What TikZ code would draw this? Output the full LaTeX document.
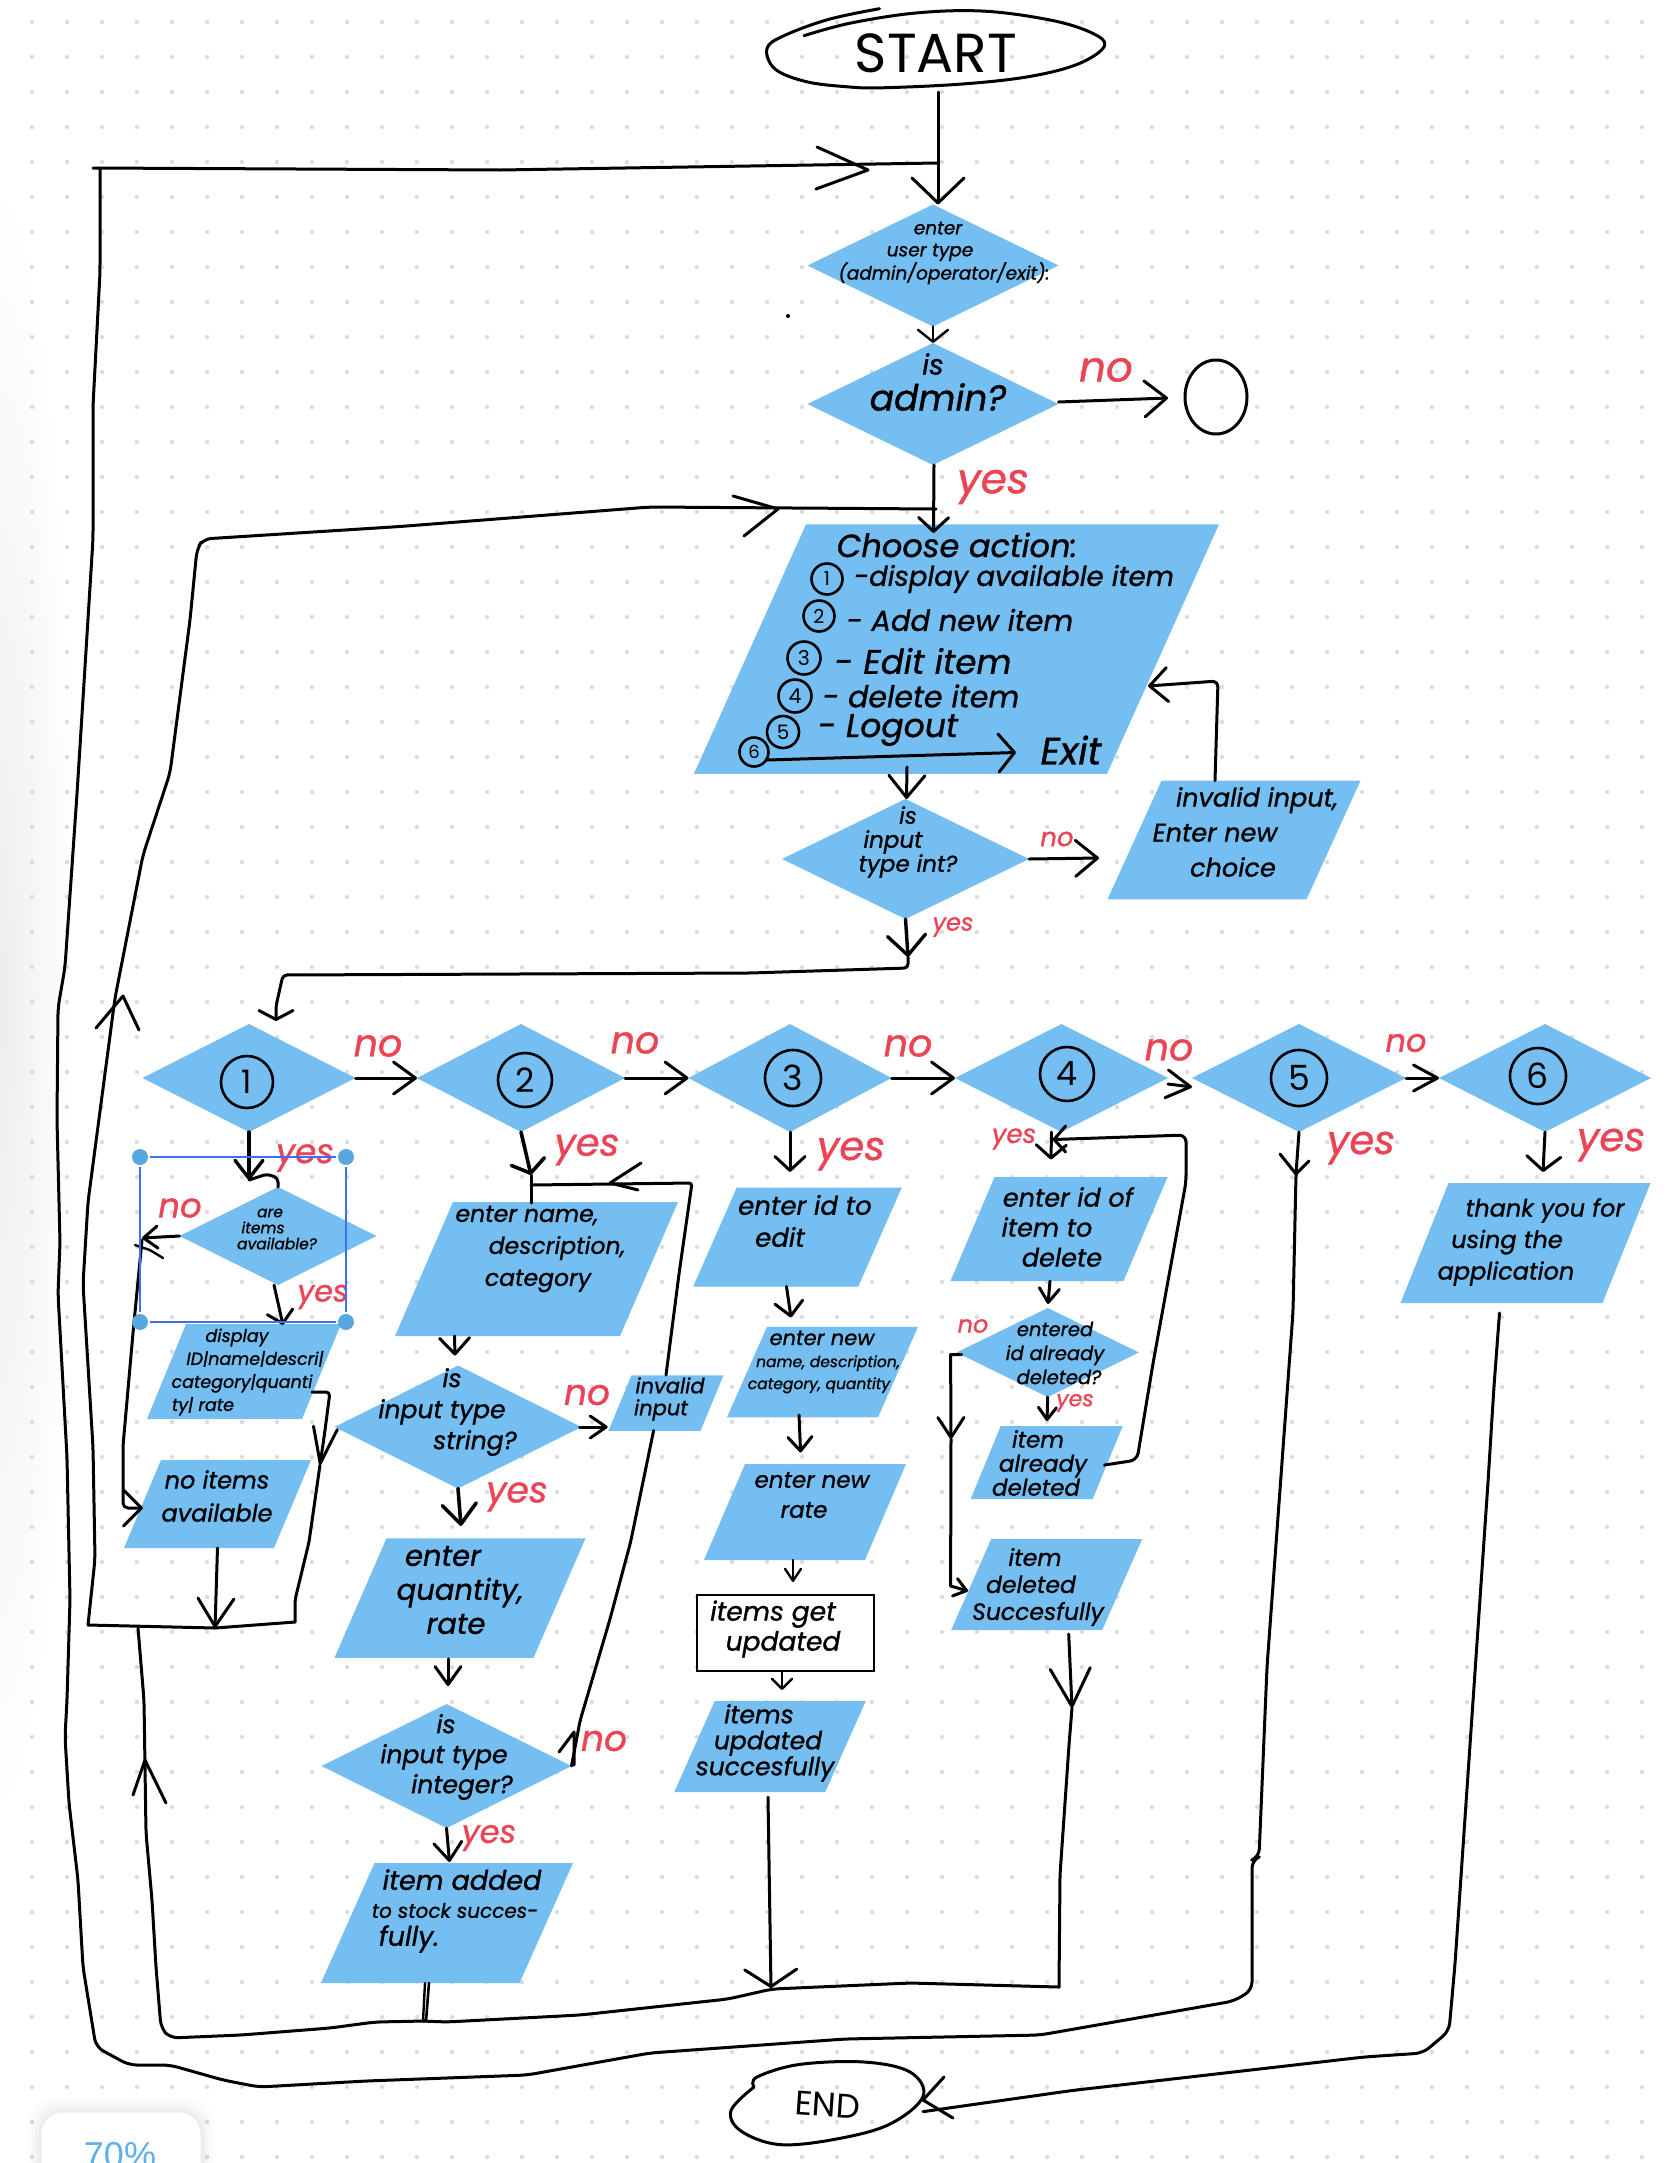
\documentclass[tikz,border=0pt]{standalone}
\usepackage{fontspec}
\setmainfont{Poppins}[ItalicFeatures={FakeBold=1}]
\newfontfamily\uifont{Liberation Sans}
\usetikzlibrary{shapes.geometric,arrows.meta}
\definecolor{flow}{HTML}{75BEF1}
\definecolor{redpen}{HTML}{EA4455}
\definecolor{griddot}{HTML}{DCDCDC}
\definecolor{selline}{HTML}{3F6FF0}
\definecolor{selknob}{HTML}{57A7E0}
\definecolor{uiblue}{HTML}{5FB0E8}
\newcommand\mv[2]{\rlap{\kern#1pt\makebox[0pt]{#2}}}
\newcommand\F[1]{\fontsize{#1}{#1}\selectfont}
\newcommand\numfont[1]{\pgfmathsetmacro\nfsize{0.62*#1}\fontsize{\nfsize}{#1}\selectfont}
\newcommand\dm[5]{\node[dmd,minimum width=#4pt,minimum height=#5pt] (#1) at (#2,#3) {};}
% name, cx, cy, top width, slant, height
\newcommand\pg[6]{\node[pgm,minimum width={(#4+#5)*1pt},minimum height=#6pt] (#1) at (#2,#3) {};
  \fill[flow] ({#2-(#4+#5)/2+#5},{#3-#6/2}) -- ({#2+(#4+#5)/2},{#3-#6/2}) -- ({#2+(#4+#5)/2-#5},{#3+#6/2}) -- ({#2-(#4+#5)/2},{#3+#6/2}) -- cycle;}
\newcommand\hd[3]{\draw[conn] #2 -- #1 -- #3;}
\tikzset{
  dmd/.style={diamond,fill=flow,draw=none,inner sep=0pt,outer sep=0pt,aspect=2},
  pgm/.style={rectangle,draw=none,inner sep=0pt,outer sep=0pt},
  fs/.style 2 args={font=\fontsize{#1}{#2}\selectfont\itshape,align=center,inner sep=0pt,text=black},
  lab/.style={font=\fontsize{#1}{#1}\selectfont\itshape,text=redpen,inner sep=0pt},
  conn/.style={draw=black,line width=3pt,line cap=round,line join=round},
  thin conn/.style={conn,line width=2.4pt},
  bb/.style 2 args={arrows={-{Straight Barb[length=#1pt,width=#2pt,round]}}},
  num/.style={circle,draw=black,line width=2.6pt,inner sep=0pt,minimum size=#1pt,font=\numfont{#1}},
  num/.default=52
}
\begin{document}
\begin{tikzpicture}[x=1pt,y=-1pt]
\useasboundingbox (0,0) rectangle (1668,2163);
\clip (0,0) rectangle (1668,2163);
\fill[white] (0,0) rectangle (1668,2163);
\shade[inner color=black!7,outer color=white,draw=none] (0,1000) ellipse [x radius=75pt,y radius=820pt];
\foreach \i in {0,...,46}{\foreach \j in {0,...,61}{\fill[griddot] ({32+35*\i},{22+35*\j}) circle[radius=2.2pt];}}
% UI card
\foreach \o/\a in {14/0.012,10/0.015,6/0.02,3/0.025}{\fill[black,opacity=\a,rounded corners=26pt] ({41-\o},{2112-\o}) rectangle ({201+\o},2200);}
\fill[white,rounded corners=22pt] (41,2112) rectangle (201,2200);
\draw[black!7,line width=1pt,rounded corners=22pt] (41,2112) rectangle (201,2200);
\node[font=\uifont\fontsize{36}{36}\selectfont,text=uiblue,inner sep=0pt] (zoomlevel) at (120,2155) {70\%};

% decisions
\dm{d0}{933}{265.5}{251}{122}
\dm{d1}{933}{404}{251}{122}
\dm{d2}{905.5}{859}{247}{120}
\dm{c1}{249}{1078}{213}{108}
\dm{c2}{521}{1078}{208}{108}
\dm{c3}{790}{1078}{203}{108}
\dm{c4}{1061.5}{1078}{213}{108}
\dm{c5}{1299}{1078}{214}{108}
\dm{c6}{1545}{1078}{212}{108}
\dm{are}{278}{1236}{197}{98}
\dm{str}{458}{1427}{247}{123}
\dm{int}{446.5}{1766}{250}{124}
\dm{ent}{1047.7}{1352.5}{182.5}{89}
% data boxes
\pg{choose}{956.5}{649}{413}{112}{249.5}
\pg{inv1}{1234}{840}{199}{54}{118.7}
\pg{disp}{244}{1371.5}{155}{39}{95}
\pg{noit}{217.5}{1504}{150}{37}{88}
\pg{name}{536.5}{1269}{225}{58}{134}
\pg{inv2}{666}{1403}{92}{23}{55.5}
\pg{qty}{460}{1598}{199}{52}{119.5}
\pg{added}{447}{1923}{198.5}{53.5}{120}
\pg{edit}{797.5}{1237}{165}{43.5}{99}
\pg{newn}{822.5}{1372}{151}{40}{90.5}
\pg{rate}{805}{1512}{161}{41}{96}
\pg{upd}{770}{1746.5}{151}{40.5}{91}
\pg{did}{1059}{1229}{173}{44}{104}
\pg{alr}{1046.7}{1462.5}{122}{30}{73}
\pg{dele}{1046.7}{1584.5}{151}{40}{91}
\pg{thank}{1525.5}{1243}{202}{48}{120}
\node[draw=black,line width=2.6pt,fill=white,minimum width=177pt,minimum height=76pt,inner sep=0pt] (rect) at (785.5,1633) {};

% terminators
\node[inner sep=0pt,font=\fontsize{55}{55}\selectfont,minimum width=338pt,minimum height=78pt] (start) at (936,53) {START};
\draw[conn] plot[smooth,tension=.6] coordinates {(879.5,8.7) (828.6,19.4) (784,35.7) (767,48.5) (775,69) (806,81.6) (846,86.7) (882,87.8) (962.5,84) (1029.5,76.5) (1078.6,63.8) (1104.5,46) (1092,33) (1052,20.4) (985,11.2) (918,12.8) (851,23) (804,35.7)};
\node[inner sep=0pt,font=\fontsize{34}{34}\selectfont,rotate=-4,minimum width=190pt,minimum height=80pt] (end) at (828,2105) {END};
\draw[conn] plot[smooth,tension=.6] coordinates {(754,2087) (731,2110.5) (741,2131) (780,2144.6) (838,2138.7) (890,2124) (923,2096.5) (910,2072) (864,2062) (799,2064.5) (757,2077) (754,2087)};
\node[ellipse,draw=black,line width=3pt,minimum width=62pt,minimum height=74pt,inner sep=0pt] (stop) at (1216,397) {};

% numbered choices
\node[num=52] (n1) at (247,1082) {1};
\node[num=54] (n2) at (525,1080) {2};
\node[num=56] (n3) at (793,1078) {3};
\node[num=54] (n4) at (1067,1074) {4};
\node[num=56] (n5) at (1299,1078) {5};
\node[num=56] (n6) at (1538,1076) {6};

% texts in shapes
\node[fs={18.5}{22}] (t0) at (936,253) {\mv{2}{enter}\\\mv{-6}{user type}\\\mv{8}{(admin/operator/exit):}};
\node[fs={36}{38}] (t1a) at (938,397) {admin?};
\node[fs={28}{30}] (t1b) at (933,364) {is};
\node[fs={23}{24}] (t2) at (903,842) {\mv{5}{is}\\\mv{-10}{input}\\\mv{5}{type int?}};
\node[fs={25.5}{35}] (t3) at (1235,832) {\mv{22}{invalid input,}\\\mv{-20}{Enter new}\\\mv{-2}{choice}};
\node[fs={15.5}{16}] (t4) at (270,1229) {are\\\mv{-7}{items}\\\mv{7}{available?}};
\node[fs={17.5}{23}] (t5) at (235,1372) {\mv{2}{display}\\\mv{20}{ID|name|descri|}\\\mv{7}{category|quanti}\\\mv{-32}{ty| rate}};
\node[fs={24}{33}] (t6) at (217,1496) {no items\\available};
\node[fs={23.5}{32}] (t7) at (535,1249) {\mv{-8}{enter name,}\\\mv{22}{description,}\\\mv{3}{category}};
\node[fs={25}{31}] (t8) at (450,1412) {\mv{2}{is}\\\mv{-8}{input type}\\\mv{25}{string?}};
\node[fs={21}{22}] (t9) at (665,1399) {\mv{5}{invalid}\\\mv{-4}{input}};
\node[fs={29}{34}] (t10) at (453,1590) {\mv{-10}{enter}\\\mv{7}{quantity,}\\\mv{3}{rate}};
\node[fs={25}{30}] (t11) at (450,1757) {\mv{-4}{is}\\\mv{-6}{input type}\\\mv{12}{integer?}};
\node[fs={20}{28}] (t12) at (450,1911) {\mv{12}{\F{27}item added}\\\mv{5}{to stock succes-}\\\mv{-41}{\F{27}fully.}};
\node[fs={26}{32}] (t13) at (795,1221) {\mv{10}{enter id to}\\\mv{-15}{edit}};
\node[fs={15.5}{22}] (t14) at (822,1362) {\F{21}enter new\\\mv{6}{name, description,}\\\mv{-3}{category, quantity}};
\node[fs={23}{30}] (t15) at (808,1495) {\mv{4}{enter new}\\\mv{-4}{rate}};
\node[fs={26.5}{30}] (t16) at (778,1629) {\mv{-5}{items get}\\\mv{5}{updated}};
\node[fs={25}{26}] (t17) at (765,1743) {\mv{-6}{items}\\\mv{3}{updated}\\succesfully};
\node[fs={25.5}{30}] (t18) at (1060,1227) {\mv{8}{enter id of}\\\mv{-13}{item to}\\\mv{2}{delete}};
\node[fs={19.5}{24}] (t19) at (1055,1353) {entered\\id already\\\mv{4}{deleted?}};
\node[fs={23}{24}] (t20) at (1040,1463) {\mv{-2}{item}\\\mv{3}{already}\\\mv{-4}{deleted}};
\node[fs={23.5}{27}] (t21) at (1035,1587) {item\\\mv{-4}{deleted}\\\mv{3}{Succesfully}};
\node[fs={24}{31.5}] (t22) at (1520,1242) {\mv{25}{thank you for}\\\mv{-13}{using the}\\\mv{-14}{application}};

% menu
\node[fs={32}{34}] (m0) at (957,545) {Choose action:};
\node[num=31] (m1) at (827,579) {1};
\node[num=31] (m2) at (819,616) {2};
\node[num=33] (m3) at (804,658) {3};
\node[num=33] (m4) at (795,696) {4};
\node[num=32] (m5) at (783,732) {5};
\node[num=29] (m6) at (754,752) {6};
\node[fs={27.5}{28}] (m1t) at (1014,579) {-display available item};
\node[fs={29}{30}] (m2t) at (960,620) {- Add new item};
\node[fs={34}{36}] (m3t) at (923,661) {- Edit item};
\node[fs={30}{32}] (m4t) at (921,696) {- delete item};
\node[fs={33}{34}] (m5t) at (888,730) {- Logout};
\node[fs={38}{40}] (exit) at (1071,750) {Exit};
\coordinate (arr6) at (767,760);
\coordinate (arrexit) at (1016,752.5);
\draw[conn,bb={16}{38}] (arr6) -- (arrexit);

% main flow
\draw[conn,bb={25}{52}] ([xshift=2pt]start.south) -- ([xshift=5pt]d0.north);
\draw[thin conn,bb={12}{30}] (d0.south) -- (d1.north);
\draw[conn,bb={14}{30}] ([xshift=1pt]d1.south) -- (933.5,533);
\draw[conn,bb={22}{36}] ([yshift=2pt]d1.east) -- (1168,398);
\draw[conn,bb={22}{36}] (907,767) -- ([xshift=1pt]d2.north);
\draw[conn,bb={22}{36}] (d2.east) -- (1099,858);
\coordinate (d2foot) at (908,968);
\draw[conn,line width=3.4pt,bb={20}{38}] (d2.south) -- (908,957);
\draw[conn,rounded corners=4pt,bb={9}{34}] (908,957) -- (d2foot) -- (750,973) -- (283,975) -- (276,1006) -- ([xshift=27pt,yshift=3pt]c1.north);
\draw[conn,rounded corners=6pt,bb={18}{34}] ([xshift=-19pt]inv1.north) -- (1218,681) -- (1148,686);
% row
\draw[conn,bb={22}{32}] (c1.east) -- (c2.west);
\draw[conn,bb={22}{32}] (c2.east) -- (c3.west);
\draw[conn,bb={22}{32}] (c3.east) -- (c4.west);
\draw[conn,bb={24}{28}] ([yshift=-6pt]c4.east) -- ([yshift=-9pt]c5.west);
\draw[conn,bb={24}{26}] (c5.east) -- (c6.west);
% column 1
\coordinate (w1) at (249,1180);
\draw[conn,line width=3.4pt,bb={18}{28}] (c1.south) -- (w1);
\draw[conn,rounded corners=4pt] (w1) -- (267,1174) -- (278,1178) -- (are.north);
\draw[conn,bb={14}{22}] (are.west) -- (142,1238);
\draw[thin conn,rounded corners=2pt] (135,1245) -- (150,1250) -- (163,1258);
\draw[conn,rounded corners=5pt,bb={18}{36}] (142,1240) -- (133,1333) -- (123,1446) -- (123,1508) -- (143,1508);
\draw[conn,bb={12}{26}] ([xshift=-4pt]are.south) -- ([xshift=39pt,yshift=-1pt]disp.north);
\coordinate (busL) at (88,1625);
\coordinate (busM) at (215,1628);
\coordinate (busR) at (295,1622);
\draw[conn,rounded corners=4pt,bb={36}{24}] (312,1392) -- (330,1392) -- (324.5,1434) -- (320,1465);
\draw[conn,rounded corners=4pt] (320,1465) -- (309,1542) -- (295,1600) -- (busR);
\draw[conn,bb={28}{36}] (noit.south) -- (busM);
\draw[conn] (busL) -- (busM) -- (busR);
\draw[conn,rounded corners=8pt] (busL) -- (95,1559) -- (93,1447) -- (83,1284) -- (88,1202) -- (115,998) -- (143,855) -- (170,773) -- (190,620) -- (197,549) -- (203,539) -- (400,526.5) -- (650,507) -- (936,509);
\hd{(123,996)}{(96,1028)}{(139,1030)}
\hd{(778,509)}{(733,496)}{(744,536)}
% column 2
\coordinate (w2) at (531,1175);
\draw[conn,line width=3.6pt,bb={12}{34}] (c2.south) -- (w2);
\draw[conn] (w2) -- (531,1203);
\draw[conn,rounded corners=3pt] (531,1185) -- (692,1183) -- (679,1274) -- (666,1375);
\hd{(610,1183)}{(641,1163)}{(638,1190)}
\draw[conn,bb={16}{30}] ([xshift=-82pt]name.south) -- ([yshift=10pt,xshift=-3pt]str.north);
\draw[conn,line width=3.6pt,bb={20}{34}] (str.south) -- (461,1526);
\draw[conn,bb={16}{22}] ([xshift=-2pt]str.east) -- (607.7,1427);
\draw[conn,bb={18}{26}] ([xshift=-12pt,yshift=-1pt]qty.south) -- (448,1686);
\draw[conn,bb={18}{28}] (int.south) -- (449.5,1862);
\draw[conn,rounded corners=2pt,line width=2.6pt] ([xshift=-18pt]added.south) -- (426,2021) -- (423,2021);
\draw[conn,rounded corners=2pt,line width=2.4pt] ([xshift=-22pt]added.south) -- (423,2021);
\draw[conn,rounded corners=4pt] (int.east) -- (580,1721) -- (610,1619) -- (630.6,1542) -- (653.6,1430.5);
\hd{(574,1732)}{(559,1752)}{(574,1765)}
% column 3
\draw[conn,bb={14}{30}] (c3.south) -- (790,1172);
\draw[conn,bb={14}{28}] ([xshift=-11pt]edit.south) -- (791,1317.5);
\draw[conn,bb={14}{24}] (799,1415) -- (800.6,1452.5);
\draw[thin conn,bb={12}{16}] (793,1560) -- (793,1582);
\draw[thin conn,bb={10}{20}] (782,1671) -- (782,1690);
\coordinate (busB) at (771,1988);
\draw[conn,bb={17}{52}] ([xshift=-2pt,yshift=-5pt]upd.south) -- (busB);
% column 4
\draw[conn,bb={13}{30}] ([xshift=-10pt]c4.south) -- (1051,1159.5);
\draw[conn,bb={14}{20}] ([xshift=-9pt]did.south) -- (1048,1304);
\draw[conn,bb={12}{18}] (ent.south) -- (1047,1421);
\draw[conn,rounded corners=7pt] (1104.5,1465) -- (1137,1460) -- (1153,1363.5) -- (1186,1182) -- (1186,1135) -- (1054,1139.5);
\hd{(1054,1139.5)}{(1065.6,1126)}{(1065.6,1152)}
\draw[conn,bb={20}{26}] (961.7,1354.6) -- (950.6,1354.6) -- (951,1439);
\draw[conn,bb={12}{18}] (951,1439) -- (950.6,1586) -- (968,1591);
\coordinate (busE) at (1059,1987);
\draw[conn,bb={38}{40}] ([xshift=22pt,yshift=-4pt]dele.south) -- (1072,1708);
\draw[conn,rounded corners=4pt] (1072,1708) -- (1069,1745) -- (1060,1875) -- (busE);
% bottom collector and inner return
\draw[conn,rounded corners=8pt] (busE) -- (910,1983) -- (772,1989) -- (728,1999) -- (580,2015) -- (446,2022) -- (424,2021) -- (375,2022) -- (330,2028) -- (241,2035) -- (170,2038) -- (161,2028) -- (156,1967) -- (152,1900) -- (146,1833) -- (144,1700) -- (138,1628);
\hd{(145,1760)}{(133,1795)}{(166,1803)}
% column 5 outer loop
\draw[conn,rounded corners=8pt] (c5.south) -- (1296,1174) -- (1293,1312) -- (1267,1667) -- (1259,1857) -- (1252,1860) -- (1252,1990) -- (1234,2001) -- (1040,2035) -- (845,2039) -- (650,2053) -- (527,2075) -- (366,2081) -- (259,2087) -- (223,2080) -- (170,2065) -- (129,2065) -- (96,2047) -- (83,1967) -- (78,1880) -- (69,1803) -- (65,1737) -- (67,1700) -- (70,1600) -- (67,1457) -- (58,1294) -- (60,1243) -- (57,1120) -- (58,1008) -- (65,967) -- (77,794) -- (86,651) -- (93,539) -- (93,406) -- (100,273) -- (100,168);
\coordinate (topL) at (93,168);
\coordinate (topR) at (938,163);
\draw[conn] (topL) -- (500,170) -- (topR);
\hd{(868,170)}{(817,147)}{(816,189)}
\hd{(1296,1174)}{(1280,1154)}{(1309,1161)}
% column 6
\draw[conn,bb={14}{34}] (c6.south) -- (1543,1172);
\draw[conn,rounded corners=8pt] ([yshift=-10pt,xshift=-26pt]thank.south) -- (1494,1386) -- (1488,1482) -- (1455,1964) -- (1449,2031) -- (1423,2053) -- (1364,2057) -- (1072,2090.5) -- (end.east);
\hd{(923,2100)}{(944,2077)}{(953,2118)}
\fill[black] (788,316) circle[radius=2pt];

% red labels
\node[lab=42] (l1) at (1106,370) {no};
\node[lab=42] (l2) at (993,487) {yes};
\node[lab=26] (l3) at (1057,839) {no};
\node[lab=24] (l4) at (953,927) {yes};
\node[lab=38] (l5) at (378,1046) {no};
\node[lab=38] (l6) at (635,1043) {no};
\node[lab=38] (l7) at (908,1046) {no};
\node[lab=38] (l8) at (1169,1050) {no};
\node[lab=32] (l9) at (1406,1043) {no};
\node[lab=34] (l10) at (305,1158) {yes};
\node[lab=34] (l11) at (180,1208) {no};
\node[lab=30] (l12) at (323,1297) {yes};
\node[lab=38] (l13) at (587,1150) {yes};
\node[lab=36] (l14) at (587,1395) {no};
\node[lab=36] (l15) at (517,1497) {yes};
\node[lab=36] (l16) at (604,1741) {no};
\node[lab=32] (l17) at (489,1838) {yes};
\node[lab=40] (l18) at (851,1154) {yes};
\node[lab=26] (l19) at (1014,1139) {yes};
\node[lab=24] (l20) at (973,1326) {no};
\node[lab=22] (l21) at (1075,1403) {yes};
\node[lab=40] (l22) at (1361,1148) {yes};
\node[lab=40] (l23) at (1611,1145) {yes};

% selection frame
\coordinate (s1) at (140,1157);
\coordinate (s2) at (346,1157);
\coordinate (s3) at (140,1322);
\coordinate (s4) at (346,1322);
\draw[selline,line width=1.6pt] ([xshift=10pt]s1) -- ([xshift=-10pt]s2);
\draw[selline,line width=1.6pt] ([xshift=10pt]s3) -- ([xshift=-10pt]s4);
\draw[selline,line width=1.6pt] ([yshift=-10pt]s1) -- ([yshift=10pt]s3);
\draw[selline,line width=1.6pt] ([yshift=-10pt]s2) -- ([yshift=10pt]s4);
\foreach \c in {s1,s2,s3,s4}{\fill[selknob] (\c) circle[radius=8pt];}
\end{tikzpicture}
\end{document}
